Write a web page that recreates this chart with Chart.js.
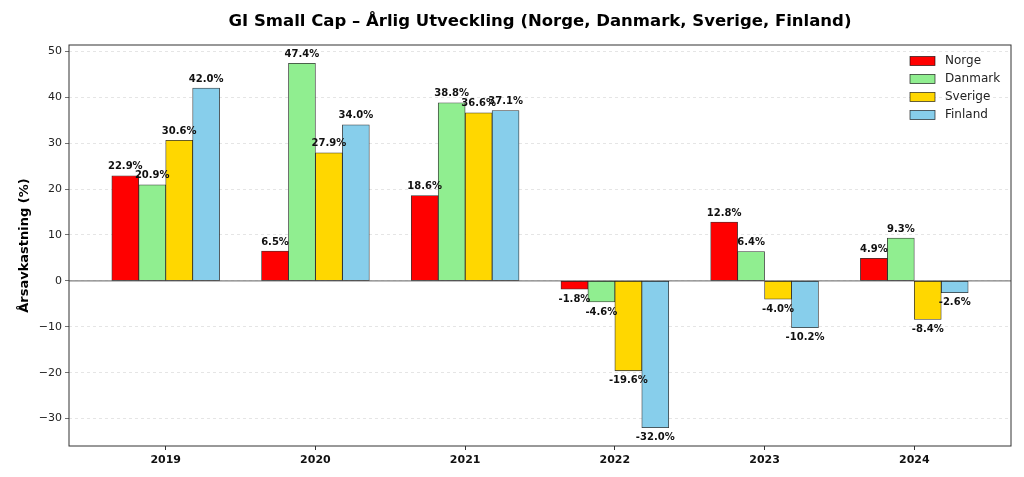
<!DOCTYPE html>
<html>
<head>
<meta charset="utf-8">
<script src="https://cdn.jsdelivr.net/npm/chart.js@4"></script>
<style>
  html, body { margin: 0; padding: 0; background: #fff; }
  #wrap { width: 1024px; height: 477px; }
</style>
</head>
<body>
<div id="wrap"><canvas id="chart" width="1024" height="477"></canvas></div>
<script>
const years = ['2019', '2020', '2021', '2022', '2023', '2024'];
const countries = ['Norge', 'Danmark', 'Sverige', 'Finland'];
const norge = [22.9, 6.5, 18.6, -1.8, 12.8, 4.9];
const danmark = [20.9, 47.4, 38.8, -4.6, 6.4, 9.3];
const sverige = [30.6, 27.9, 36.6, -19.6, -4.0, -8.4];
const finland = [42.0, 34.0, 37.1, -32.0, -10.2, -2.6];
const colors = ['#ff0000', '#90ee90', '#ffd700', '#87ceeb'];
const titleText = 'GI Small Cap – Årlig Utveckling (Norge, Danmark, Sverige, Finland)';

const series = [norge, danmark, sverige, finland];
const barW = 0.18;
const FONT = "'DejaVu Sans', sans-serif";

const datasets = series.map((vals, d) => ({
    label: countries[d],
    data: vals.map((v, i) => ({ x: i + (d - 1.5) * barW, y: v })),
    backgroundColor: colors[d],
    borderColor: 'rgba(0,0,0,0.8)',
    borderWidth: 0.8,
    borderSkipped: false
}));

const fmt = v => (v < 0 ? '-' : '') + Math.abs(v).toFixed(1) + '%';

const extras = {
    id: 'extras',
    beforeDatasetsDraw(chart) {
        const { ctx, chartArea: a, scales: { y } } = chart;
        const y0 = y.getPixelForValue(0);
        ctx.save();
        ctx.strokeStyle = '#808080';
        ctx.lineWidth = 1.2;
        ctx.beginPath(); ctx.moveTo(a.left, y0); ctx.lineTo(a.right, y0); ctx.stroke();
        ctx.restore();
    },
    afterDatasetsDraw(chart) {
        const { ctx, chartArea: a } = chart;
        ctx.save();
        // title, centred over the plot area
        ctx.font = 'bold 16.5px ' + FONT;
        ctx.fillStyle = '#000';
        ctx.textAlign = 'center';
        ctx.textBaseline = 'middle';
        ctx.fillText(titleText, (a.left + a.right) / 2, 22);
        // value labels
        ctx.font = 'bold 10px ' + FONT;
        ctx.fillStyle = '#111';
        chart.data.datasets.forEach((ds, d) => {
            chart.getDatasetMeta(d).data.forEach((bar, i) => {
                const v = series[d][i];
                if (v >= 0) {
                    ctx.textBaseline = 'bottom';
                    ctx.fillText(fmt(v), bar.x, bar.y - 4);
                } else {
                    ctx.textBaseline = 'top';
                    ctx.fillText(fmt(v), bar.x, bar.y + 5);
                }
            });
        });
        // frame
        ctx.strokeStyle = '#333';
        ctx.lineWidth = 1;
        ctx.strokeRect(a.left, a.top, a.right - a.left, a.bottom - a.top);
        // legend
        ctx.font = '12px ' + FONT;
        ctx.textAlign = 'left';
        ctx.textBaseline = 'middle';
        countries.forEach((c, d) => {
            const ly = 61 + d * 18;
            ctx.fillStyle = colors[d];
            ctx.fillRect(910, ly - 4.5, 25, 9);
            ctx.strokeStyle = 'rgba(0,0,0,0.75)';
            ctx.lineWidth = 0.8;
            ctx.strokeRect(910, ly - 4.5, 25, 9);
            ctx.fillStyle = '#222';
            ctx.fillText(c, 945, ly);
        });
        ctx.restore();
    }
};

new Chart(document.getElementById('chart'), {
    type: 'bar',
    data: { datasets },
    options: {
        responsive: false,
        animation: false,
        layout: { padding: { left: 0, right: 13, top: 45, bottom: 0 } },
        datasets: { bar: { grouped: false, barPercentage: 1, categoryPercentage: 1 } },
        plugins: {
            legend: { display: false },
            tooltip: { enabled: false },
            title: { display: false }
        },
        scales: {
            x: {
                type: 'linear',
                offset: false,
                min: -0.646,
                max: 5.646,
                afterBuildTicks: s => { s.ticks = years.map((_, i) => ({ value: i })); },
                afterFit: s => { s.height = 31; },
                ticks: {
                    callback: v => years[v],
                    font: { family: FONT, size: 11, weight: 'bold' },
                    color: '#111',
                    padding: 4,
                    maxRotation: 0
                },
                grid: { offset: false, drawOnChartArea: false, drawTicks: true, tickLength: 4, tickColor: '#333' },
                border: { display: false }
            },
            y: {
                min: -35.97,
                max: 51.37,
                afterBuildTicks: s => { s.ticks = [-30, -20, -10, 0, 10, 20, 30, 40, 50].map(v => ({ value: v })); },
                afterFit: s => { s.width = 69; },
                ticks: {
                    callback: v => v < 0 ? '\u2212' + Math.abs(v) : String(v),
                    font: { family: FONT, size: 11 },
                    color: '#222',
                    padding: 3
                },
                title: {
                    display: true,
                    text: 'Årsavkastning (%)',
                    font: { family: FONT, size: 13, weight: 'bold' },
                    color: '#000',
                    padding: { top: 17, bottom: 0 }
                },
                grid: { color: 'rgba(0,0,0,0.15)', lineWidth: 0.7, drawTicks: true, tickLength: 4, tickColor: '#333', tickBorderDash: [] },
                border: { display: false, dash: [3, 3] }
            }
        }
    },
    plugins: [extras]
});
</script>
</body>
</html>
